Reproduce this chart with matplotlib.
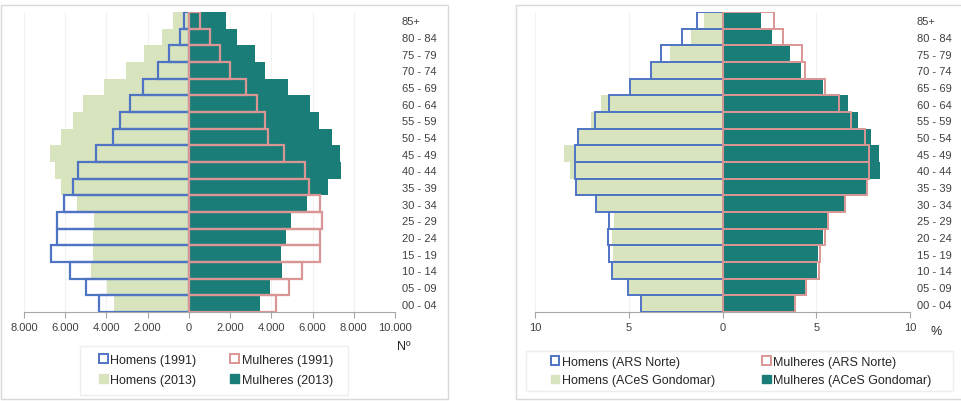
import numpy as np
import matplotlib.pyplot as plt
from matplotlib.patches import Patch, Rectangle
from matplotlib.ticker import FuncFormatter

plt.rcParams['font.family'] = ['Liberation Sans', 'DejaVu Sans']

# Age groups (bottom to top)
ages = ['00 - 04', '05 - 09', '10 - 14', '15 - 19', '20 - 24', '25 - 29', '30 - 34',
        '35 - 39', '40 - 44', '45 - 49', '50 - 54', '55 - 59', '60 - 64', '65 - 69',
        '70 - 74', '75 - 79', '80 - 84', '85+']

# Left chart: counts
homens_1991 = [4340, 4980, 5790, 6690, 6400, 6400, 6050, 5630, 5390, 4500,
               3660, 3340, 2855, 2210, 1480, 950, 435, 225]
homens_2013 = [3610, 3950, 4740, 4660, 4660, 4600, 5440, 6190, 6520, 6760,
               6210, 5600, 5130, 4100, 3050, 2180, 1290, 790]
mulheres_1991 = [4210, 4850, 5500, 6370, 6340, 6440, 6340, 5850, 5610, 4600,
                 3850, 3710, 3310, 2790, 1980, 1530, 1020, 530]
mulheres_2013 = [3440, 3920, 4520, 4480, 4730, 4950, 5730, 6740, 7370, 7310,
                 6920, 6310, 5890, 4820, 3710, 3190, 2350, 1820]

# Right chart: percentages
homens_ars = [4.37, 5.04, 5.88, 6.06, 6.11, 6.06, 6.73, 7.80, 7.89, 7.89,
              7.71, 6.82, 6.06, 4.92, 3.80, 3.27, 2.17, 1.37]
homens_aces = [4.30, 5.00, 5.84, 5.84, 5.90, 5.81, 6.70, 7.76, 8.15, 8.44,
               7.76, 7.00, 6.47, 5.00, 3.77, 2.79, 1.67, 1.01]
mulheres_ars = [3.87, 4.46, 5.12, 5.20, 5.44, 5.65, 6.54, 7.69, 7.83, 7.83,
                7.60, 6.86, 6.22, 5.47, 4.40, 4.23, 3.25, 2.72]
mulheres_aces = [3.82, 4.40, 5.03, 5.08, 5.38, 5.56, 6.50, 7.64, 8.40, 8.37,
                 7.90, 7.21, 6.68, 5.38, 4.19, 3.61, 2.66, 2.04]

blue = '#4f74c4'
pink = '#d99694'
teal = '#1b7d78'
light = '#d7e4bd'
txt = '#404040'

W, H = 961, 402
fig = plt.figure(figsize=(W / 100, H / 100), dpi=100)


def frame(x0, y0, x1, y1, color):
    # rectangle given in pixel coordinates from the top-left corner
    fig.patches.append(Rectangle((x0 / W, 1 - y1 / H), (x1 - x0) / W, (y1 - y0) / H,
                                 transform=fig.transFigure, fill=False,
                                 edgecolor=color, linewidth=1))


# panel frames and legend boxes
frame(1, 6, 448, 400, '#d9d9d9')
frame(516, 6, 966, 400, '#d9d9d9')
frame(80, 347, 348, 396, '#eeeeee')
frame(526, 352, 953, 392, '#eeeeee')

y = np.arange(len(ages))
bottom = (H - 313) / H
height = 300 / H


def style(ax, xmin, xmax, step):
    ax.set_ylim(-0.5, len(ages) - 0.5)
    ax.set_xlim(xmin, xmax)
    ax.set_xticks(np.arange(xmin, xmax + 1e-9, step))
    for s in ['top', 'left', 'right']:
        ax.spines[s].set_visible(False)
    ax.spines['bottom'].set_color('#a6a6a6')
    ax.yaxis.tick_right()
    ax.set_yticks(y)
    ax.set_yticklabels(ages)
    ax.tick_params(axis='y', length=0, pad=5, labelsize=8, labelcolor=txt)
    ax.tick_params(axis='x', length=4, color='#a6a6a6', labelsize=8, labelcolor=txt, pad=3)
    ax.grid(axis='x', color='#f2f2f2', linewidth=0.8, zorder=0)
    ax.set_axisbelow(True)


# Left chart
ax1 = fig.add_axes([24 / W, bottom, 371 / W, height])
ax1.barh(y, -np.array(homens_2013), height=1.0, color=light, zorder=2)
ax1.barh(y, mulheres_2013, height=1.0, color=teal, zorder=2)
ax1.barh(y, -np.array(homens_1991), height=1.0, fill=False, edgecolor=blue, linewidth=1.6, zorder=3)
ax1.barh(y, mulheres_1991, height=1.0, fill=False, edgecolor=pink, linewidth=1.6, zorder=3)
style(ax1, -8000, 10000, 2000)
ax1.xaxis.set_major_formatter(FuncFormatter(lambda v, p: f'{abs(int(v)):,}'.replace(',', '.')))
fig.text(397 / W, 1 - 347 / H, 'Nº', fontsize=9, color='#262626', ha='left', va='center')

h1 = [Patch(facecolor='white', edgecolor=blue, linewidth=1.4, label='Homens (1991)'),
      Patch(facecolor=light, edgecolor=light, label='Homens (2013)'),
      Patch(facecolor='white', edgecolor=pink, linewidth=1.4, label='Mulheres (1991)'),
      Patch(facecolor=teal, edgecolor=teal, label='Mulheres (2013)')]
fig.legend(handles=h1, ncol=2, loc='center', bbox_to_anchor=(216 / W, 1 - 371 / H),
           fontsize=9, frameon=False,
           handlelength=0.7, handleheight=0.7, handletextpad=0.2, columnspacing=2.7,
           labelspacing=0.65, borderpad=0.3, labelcolor='#262626')

# Right chart
ax2 = fig.add_axes([535 / W, bottom, 375 / W, height])
ax2.barh(y, -np.array(homens_aces), height=1.0, color=light, zorder=2)
ax2.barh(y, mulheres_aces, height=1.0, color=teal, zorder=2)
ax2.barh(y, -np.array(homens_ars), height=1.0, fill=False, edgecolor=blue, linewidth=1.4, zorder=3)
ax2.barh(y, mulheres_ars, height=1.0, fill=False, edgecolor=pink, linewidth=1.4, zorder=3)
style(ax2, -10, 10, 5)
ax2.xaxis.set_major_formatter(FuncFormatter(lambda v, p: f'{abs(int(round(v)))}'))
fig.text(936 / W, 1 - 332 / H, '%', fontsize=9, color='#262626', ha='center', va='center')

h2 = [Patch(facecolor='white', edgecolor=blue, linewidth=1.4, label='Homens (ARS Norte)'),
      Patch(facecolor=light, edgecolor=light, label='Homens (ACeS Gondomar)'),
      Patch(facecolor='white', edgecolor=pink, linewidth=1.4, label='Mulheres (ARS Norte)'),
      Patch(facecolor=teal, edgecolor=teal, label='Mulheres (ACeS Gondomar)')]
fig.legend(handles=h2, ncol=2, loc='center', bbox_to_anchor=(741 / W, 1 - 372 / H),
           fontsize=9, frameon=False,
           handlelength=0.7, handleheight=0.7, handletextpad=0.2, columnspacing=3.75,
           labelspacing=0.55, borderpad=0.3, labelcolor='#262626')

fig.savefig('out.png', dpi=100)
